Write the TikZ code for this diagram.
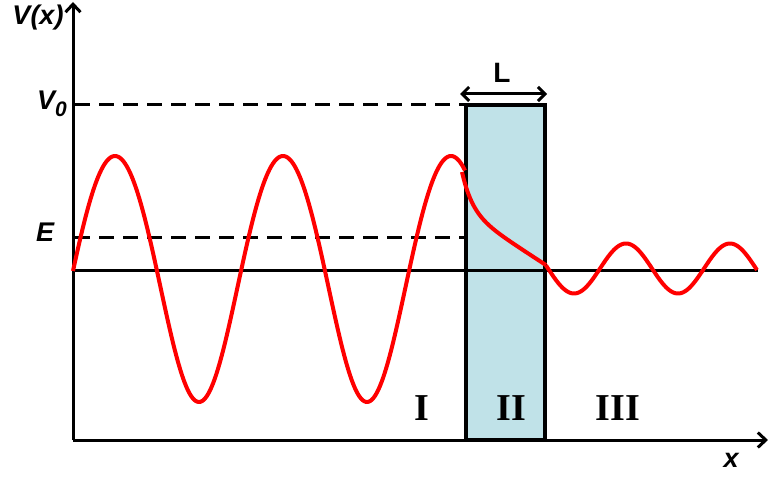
\documentclass[tikz,border=0pt]{standalone}
\usepackage{fontspec}
\setmainfont{Liberation Serif}
\setsansfont{Liberation Sans}
\usetikzlibrary{arrows.meta}
\definecolor{barrierblue}{RGB}{192,226,232}
\newcommand{\lbl}{\sffamily\bfseries\itshape\fontsize{27}{30}\selectfont}
\newcommand{\regionfont}{\rmfamily\bfseries\fontsize{38}{40}\selectfont}
\begin{document}
\begin{tikzpicture}[x=1pt, y=-1pt,
  axis/.style={line width=3pt, -{Straight Barb[length=8pt, width=15pt, line width=3pt]}},
  dashline/.style={line width=3pt, dash pattern=on 15pt off 9pt},
  wave/.style={red, line width=4pt, line join=round},
  txt/.style={inner sep=0pt, anchor=base}]
\useasboundingbox (0,0) rectangle (768,478);
% axes and barrier corners
\coordinate (O) at (73,440);
\coordinate (Ytip) at (73,2);
\coordinate (Xtip) at (768,440);
\coordinate (Mleft) at (73,271);
\coordinate (Mright) at (758,271);
\coordinate (Bsw) at (466,440);
\coordinate (Bne) at (545,105);
\coordinate (V0) at (75,105);
\coordinate (Ev) at (75,238);
\coordinate (Eb) at (466,238);
\coordinate (La) at (460,94);
\coordinate (Lb) at (547,94);
% barrier
\fill[barrierblue] (Bsw) rectangle (Bne);
\draw[line width=3pt] (Mleft) -- (Mright);
\draw[line width=4pt] (Bsw) rectangle (Bne);
\draw[axis] (O) -- (Ytip);
\draw[axis] (O) -- (Xtip);
\draw[dashline] (V0) -- (Bsw |- V0);
\draw[dashline] (Ev) -- (Eb);
\draw[line width=3pt, {Straight Barb[length=7pt, width=14pt, line width=3pt]}-{Straight Barb[length=7pt, width=14pt, line width=3pt]}] (La) -- (Lb);
% wave function
\draw[wave, domain=73:465, samples=250] plot (\x, {271 - 123*sin(2.142857*(\x-73)) + 8*sin(2.142857*(\x-73))^2});
\draw[wave, domain=462:546, samples=80] plot (\x, {172 + 0.65*(\x-462) + 38.5*(1-exp(-0.097*(\x-462)))});
\draw[wave, domain=546:757, samples=150] plot (\x, {268.5 + 25*sin(3.461538*(\x-548))});
% labels
\node[txt] (Vx) at (38,25) {\lbl V(x)};
\node[txt, anchor=base west] (V0lbl) at (37,110) {\lbl V\raisebox{-7pt}{\fontsize{21}{21}\selectfont 0}};
\node[txt, anchor=base west] (Elbl) at (36,242) {\lbl E};
\node[txt] (Llbl) at (502,83) {\sffamily\bfseries\fontsize{28}{30}\selectfont L};
\node[txt] (xlbl) at (731,467) {\lbl x};
\node[txt] (R1) at (422,420) {\regionfont I};
\node[txt] (R2) at (511,420) {\regionfont II};
\node[txt] (R3) at (618,420) {\regionfont III};
\end{tikzpicture}
\end{document}
